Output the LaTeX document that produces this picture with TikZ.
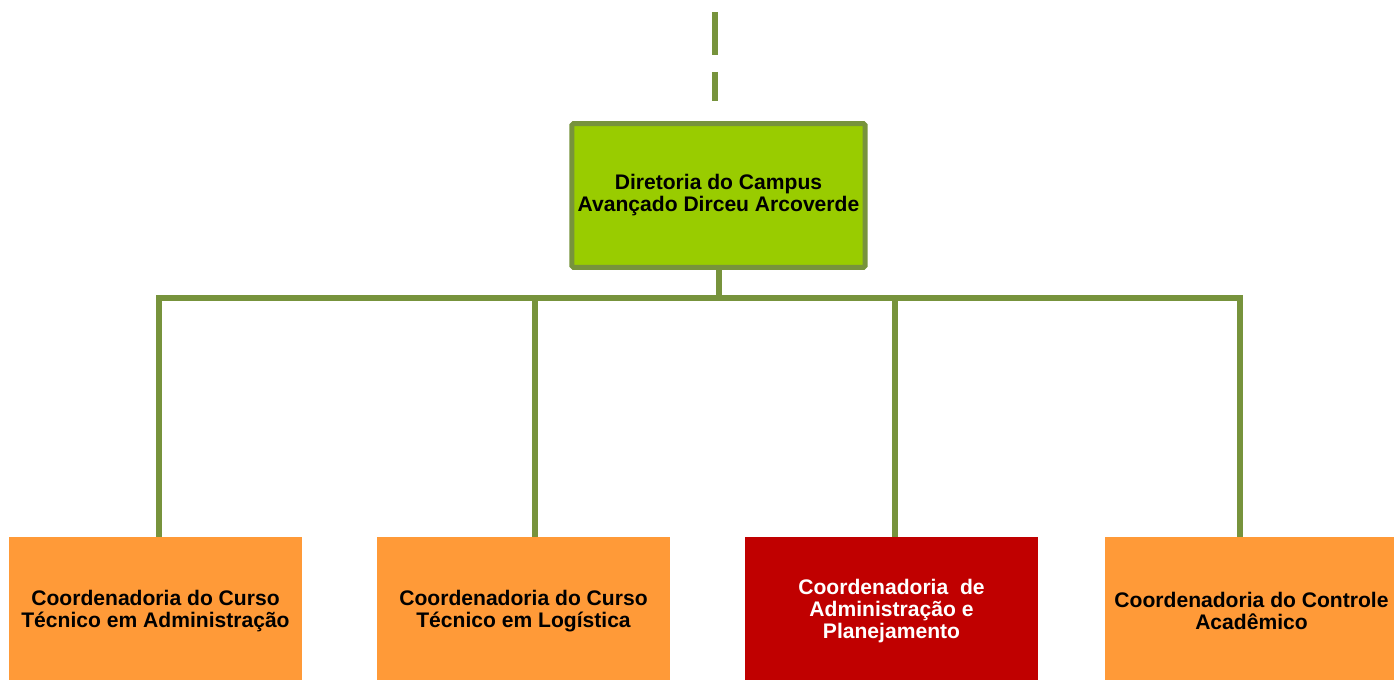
\documentclass[tikz,border=0pt]{standalone}
\usepackage{fontspec}
\setmainfont{Liberation Sans}
\usepackage{tikz}
\usetikzlibrary{positioning}
\definecolor{linegreen}{HTML}{77933C}
\definecolor{topgreen}{HTML}{99CC00}
\definecolor{coordorange}{HTML}{FF9A38}
\definecolor{coordred}{HTML}{C00000}
\tikzset{
    link/.style={draw=linegreen, line width=0.12cm, line join=miter},
    dirbox/.style={draw=linegreen, line width=0.1cm, fill=topgreen, rounded corners=1pt,
        minimum width=5.8cm, minimum height=2.88cm, align=center,
        font=\fontsize{12}{12.5}\selectfont\bfseries},
    coordbox/.style={fill=coordorange, minimum width=5.86cm, minimum height=2.96cm,
        align=center, inner sep=0pt, font=\fontsize{12}{12.5}\selectfont\bfseries}
}

\begin{document}
\begin{tikzpicture}[x=0.02cm, y=-0.02cm]
        \clip (0,0) rectangle (1394,680);
        % Top box and dashed line above it
        \node[dirbox] (dir) at (718.5,195.5) {Diretoria do Campus\\Avançado Dirceu Arcoverde};
        \coordinate (up) at (715,12);
        \coordinate (upend) at (715,101);
        \draw[link, dash pattern=on 0.86cm off 0.34cm] (up) -- (upend);
        % Coordenadorias
        \node[coordbox] (adm) at (155.5,611) {Coordenadoria do Curso\\Técnico em Administração};
        \node[coordbox] (log) at (523.5,611) {Coordenadoria do Curso\\Técnico em Logística};
        \node[coordbox, fill=coordred, text=white] (plan) at (891.5,611) {Coordenadoria\ \ de\\Administração e\\Planejamento};
        \node[coordbox] (acad) at (1251.5,611) {Coordenadoria do Controle\\Acadêmico};
        % Bus
        \coordinate (b1) at (159,298);
        \coordinate (b2) at (535,298);
        \coordinate (b3) at (895,298);
        \coordinate (b4) at (1240,298);
        \draw[link] (dir.south) -- (dir.south |- b1);
        \draw[link] (b1 |- adm.north) -- (b1) -- (b4) -- (b4 |- acad.north);
        \draw[link] (b2) -- (b2 |- log.north);
        \draw[link] (b3) -- (b3 |- plan.north);
    \end{tikzpicture}
\end{document}
